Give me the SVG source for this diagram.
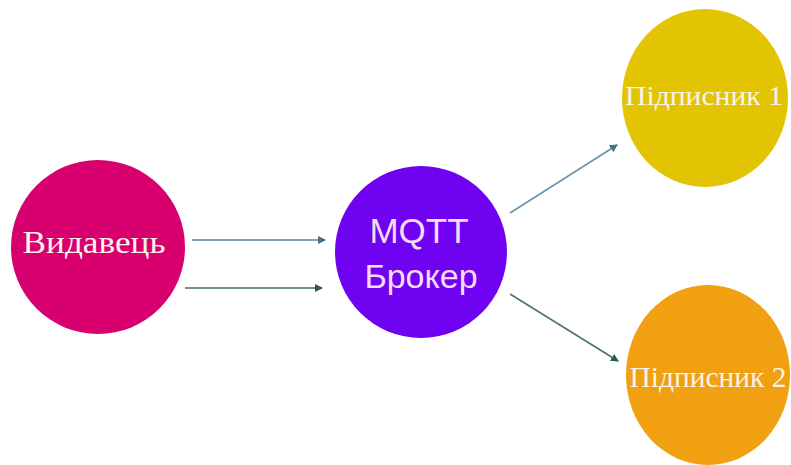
<svg xmlns="http://www.w3.org/2000/svg" width="791" height="465" viewBox="0 0 791 465">
  <defs>
    <style>
      .serif { font-family: "Liberation Serif", "DejaVu Serif", serif; fill: #fbf3e8; text-anchor: middle; }
      .sans { font-family: "Liberation Sans", Arial, sans-serif; fill: #f3dcf4; text-anchor: middle; }
      .edge { fill: none; stroke-width: 1.6; }
    </style>
    <marker id="ahBlue" markerWidth="8" markerHeight="8" refX="7" refY="4" orient="auto" markerUnits="userSpaceOnUse">
      <path d="M0,0 L8,4 L0,8 z" fill="#3f6f8c"/>
    </marker>
    <marker id="ahGreen" markerWidth="8" markerHeight="8" refX="7" refY="4" orient="auto" markerUnits="userSpaceOnUse">
      <path d="M0,0 L8,4 L0,8 z" fill="#2b5e3f"/>
    </marker>
  </defs>
  <rect width="791" height="465" fill="#ffffff"/>

  <g id="connectors">
    <line class="edge" x1="192" y1="240" x2="325" y2="240" stroke="#5a869f" marker-end="url(#ahBlue)"/>
    <line class="edge" x1="185" y1="288" x2="322" y2="288" stroke="#3f7556" marker-end="url(#ahGreen)"/>
    <line class="edge" x1="510" y1="213" x2="617" y2="145" stroke="#6a93ab" marker-end="url(#ahBlue)"/>
    <line class="edge" x1="510" y1="294" x2="618" y2="361" stroke="#4d7562" marker-end="url(#ahGreen)"/>
  </g>

  <g id="publisher">
    <circle cx="98" cy="247" r="87" fill="#d7006e"/>
    <text class="serif" x="94" y="253" font-size="31" textLength="143" lengthAdjust="spacingAndGlyphs">Видавець</text>
  </g>

  <g id="broker">
    <circle cx="421" cy="252" r="86" fill="#7002f2"/>
    <text class="sans" x="419" y="243" font-size="35">MQTT</text>
    <text class="sans" x="421" y="288" font-size="34">Брокер</text>
  </g>

  <g id="subscriber1">
    <ellipse cx="705" cy="98" rx="83" ry="89" fill="#e2c402"/>
    <text class="serif" x="704" y="105" font-size="28" textLength="158" lengthAdjust="spacingAndGlyphs">Підписник 1</text>
  </g>

  <g id="subscriber2">
    <ellipse cx="708" cy="375" rx="82" ry="90" fill="#f0a010"/>
    <text class="serif" x="708" y="387" font-size="29" textLength="157" lengthAdjust="spacingAndGlyphs">Підписник 2</text>
  </g>
</svg>
